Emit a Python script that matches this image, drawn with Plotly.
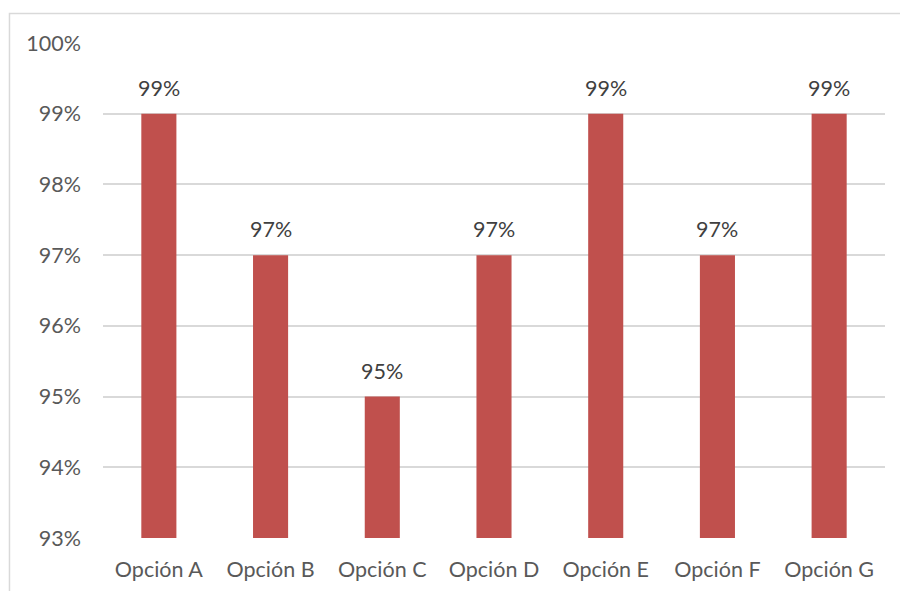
import plotly.graph_objects as go

# Survey results per option
categories = ["Opción A", "Opción B", "Opción C", "Opción D", "Opción E", "Opción F", "Opción G"]
values = [0.99, 0.97, 0.95, 0.97, 0.99, 0.97, 0.99]
tick_values = [0.93, 0.94, 0.95, 0.96, 0.97, 0.98, 0.99, 1.00]
tick_labels = ["93%", "94%", "95%", "96%", "97%", "98%", "99%", "100%"]

BAR_COLOR = "#C0504D"
TEXT_COLOR = "#595959"
GRID_COLOR = "#D9D9D9"
FONT = "Lato, 'Open Sans', sans-serif"
FONT_SIZE = 21.5

fig = go.Figure()
fig.add_trace(go.Bar(
    x=categories,
    y=values,
    base=0,
    marker=dict(color=BAR_COLOR, line=dict(width=0)),
    hoverinfo="skip",
))

# value labels above each bar
for cat, val in zip(categories, values):
    fig.add_annotation(
        x=cat, y=val, text=f"{round(val * 100)}%",
        showarrow=False, yanchor="bottom", yshift=11,
        font=dict(family=FONT, size=FONT_SIZE, color="#404040"),
    )

# outer chart border
fig.add_shape(
    type="rect", xref="paper", yref="paper",
    x0=-0.1196, x1=1.2, y0=-0.3, y1=1.0596,
    line=dict(color=GRID_COLOR, width=1.5),
    fillcolor="rgba(0,0,0,0)", layer="below",
)

fig.update_layout(
    width=900, height=591,
    margin=dict(l=103, r=15, t=43, b=53),
    paper_bgcolor="white", plot_bgcolor="white",
    bargap=0.686,
    showlegend=False,
    font=dict(family=FONT, color=TEXT_COLOR, size=FONT_SIZE),
    xaxis=dict(
        showline=False, showgrid=False, ticks="",
        tickfont=dict(size=FONT_SIZE, color=TEXT_COLOR),
        ticklabelstandoff=16, automargin=False,
    ),
    yaxis=dict(
        range=[0.93, 1.00],
        tickvals=tick_values, ticktext=tick_labels,
        showgrid=True, gridcolor=GRID_COLOR, gridwidth=1.5,
        zeroline=False, showline=False, ticks="",
        tickfont=dict(size=FONT_SIZE, color=TEXT_COLOR),
        ticklabelstandoff=21, automargin=False,
    ),
)

fig.write_html("out.html")
